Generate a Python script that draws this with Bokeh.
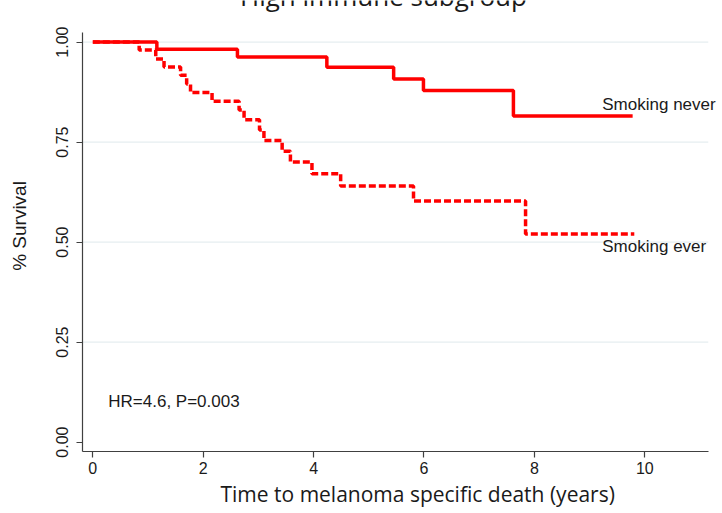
from math import pi
from bokeh.plotting import figure
from bokeh.models import FixedTicker, Label, Range1d, Title
from bokeh.embed import file_html
from bokeh.resources import INLINE

# ---- data ----
never_time = [0, 1.16, 2.62, 4.24, 5.45, 5.99, 7.62, 9.78]
never_surv = [1.0, 0.982, 0.963, 0.937, 0.908, 0.879, 0.815, 0.815]

ever_time = [0, 0.84, 1.14, 1.29, 1.59, 1.70, 1.77, 2.16, 2.65, 2.74, 3.02, 3.10,
             3.43, 3.58, 3.97, 4.49, 5.81, 7.84, 9.81]
ever_surv = [1.0, 0.980, 0.958, 0.938, 0.917, 0.895, 0.874, 0.852, 0.830, 0.806, 0.780,
             0.754, 0.727, 0.700, 0.671, 0.640, 0.603, 0.520, 0.520]

x_ticks = [0, 2, 4, 6, 8, 10]
y_ticks = [0, 0.25, 0.5, 0.75, 1.0]
y_tick_labels = ["0.00", "0.25", "0.50", "0.75", "1.00"]
grid_values = [0.25, 0.5, 0.75, 1.0]

title_text = "High immune subgroup"
x_title = "Time to melanoma specific death (years)"
y_title = "% Survival"
never_label = "Smoking never"
ever_label = "Smoking ever"
stat_text = "HR=4.6, P=0.003"

ARIAL = "Liberation Sans"
HUMAN = "Open Sans"
INK = "#1a1a1a"
AXIS = "#404040"

X_LO, X_HI = -0.187, 11.408      # visible x range (frame)
X_AXIS_END = 11.15               # where the axis line stops
Y_LO, Y_HI = -0.0235, 1.104      # visible y range (frame)
Y_AXIS_TOP = 1.025

p = figure(width=722, height=513,
           x_range=Range1d(X_LO, X_HI), y_range=Range1d(Y_LO, Y_HI),
           output_backend="svg", toolbar_location=None,
           min_border_left=82, min_border_right=0,
           min_border_top=0, min_border_bottom=62)
p.outline_line_color = None
p.background_fill_color = "white"
p.border_fill_color = "white"

# grid lines (bounded like the reference's plot region)
p.xgrid.visible = False
p.ygrid.visible = False
p.segment(x0=[X_LO] * len(grid_values), y0=grid_values,
          x1=[X_AXIS_END] * len(grid_values), y1=grid_values,
          line_color="#e6eef0", line_width=1.2)

# curves
p.step(never_time, never_surv, mode="after", line_color="#ff0000", line_width=3.5)
p.step(ever_time, ever_surv, mode="after", line_color="#ff0000", line_width=3.5,
       line_dash="7 3")

# axes
for ax in (p.xaxis, p.yaxis):
    ax.axis_line_color = AXIS
    ax.axis_line_width = 1.2
    ax.major_tick_line_color = AXIS
    ax.major_tick_line_width = 1.2
    ax.major_tick_in = 0
    ax.major_tick_out = 6
    ax.minor_tick_line_color = None
    ax.major_label_text_font = ARIAL
    ax.major_label_text_font_size = "16px"
    ax.major_label_text_color = INK

p.xaxis.ticker = FixedTicker(ticks=x_ticks)
p.xaxis.bounds = (X_LO, X_AXIS_END)
p.xaxis.major_label_standoff = 4

p.add_layout(Title(text=x_title, align="left", offset=138, standoff=3,
                   vertical_align="bottom", text_font=HUMAN, text_font_size="21px",
                   text_font_style="normal", text_color=INK), "below")

p.yaxis.ticker = FixedTicker(ticks=y_ticks)
p.yaxis.bounds = (Y_LO, Y_AXIS_TOP)
p.yaxis.major_label_overrides = {t: l for t, l in zip(y_ticks, y_tick_labels)}
p.yaxis.major_label_orientation = "vertical"
p.yaxis.major_label_standoff = 8
p.yaxis.axis_label = y_title
p.yaxis.axis_label_text_font = ARIAL
p.yaxis.axis_label_text_font_size = "19px"
p.yaxis.axis_label_text_font_style = "normal"
p.yaxis.axis_label_text_color = INK
p.yaxis.axis_label_standoff = 24

# texts inside the plot
p.add_layout(Label(x=9.23, y=0.845, text=never_label, text_font=ARIAL,
                   text_font_size="17px", text_color=INK, text_baseline="alphabetic"))
p.add_layout(Label(x=9.23, y=0.4885, text=ever_label, text_font=ARIAL,
                   text_font_size="17px", text_color=INK, text_baseline="alphabetic"))
p.add_layout(Label(x=0.28, y=0.101, text=stat_text, text_font=ARIAL,
                   text_font_size="17px", text_color=INK, text_baseline="alphabetic"))
p.add_layout(Label(x=5.266, y=1.1165, text=title_text, text_font=HUMAN,
                   text_font_size="26px", text_color=INK, text_align="center",
                   text_baseline="alphabetic"))

open("out.html", "w").write(file_html(p, INLINE, title="High immune subgroup"))
